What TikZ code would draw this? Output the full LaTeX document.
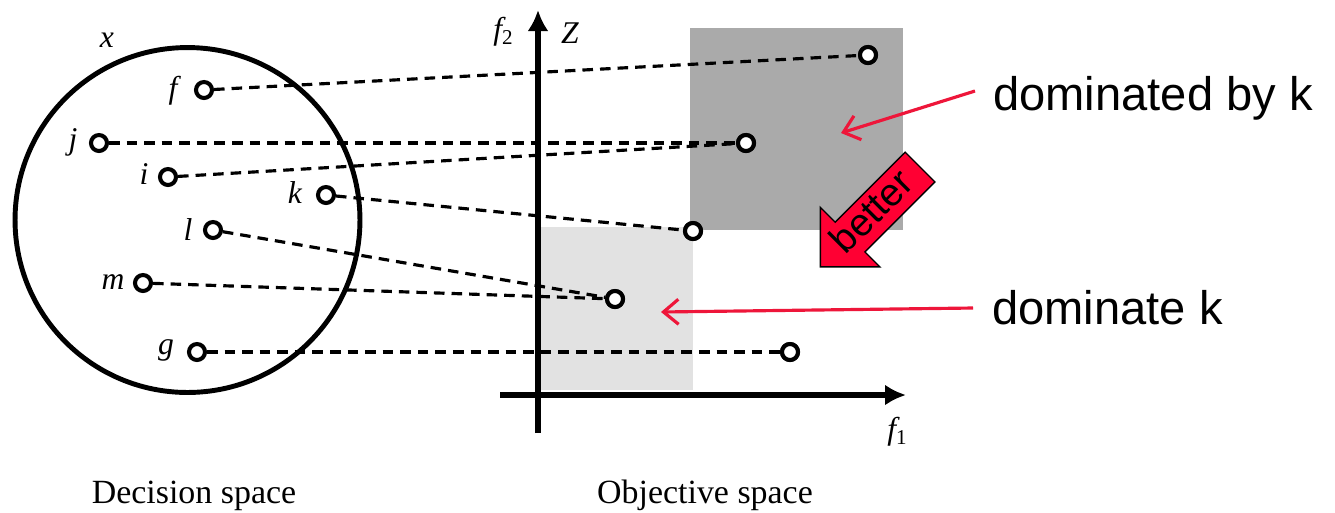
\documentclass[tikz,border=0pt]{standalone}
\usepackage{fontspec}
\setmainfont{Liberation Serif}
\newfontfamily\arialf{Liberation Sans}
\usetikzlibrary{arrows.meta}
\definecolor{darkbox}{RGB}{170,170,170}
\definecolor{lightbox}{RGB}{226,226,226}
\definecolor{redline}{RGB}{238,22,58}
\definecolor{redfill}{RGB}{255,0,51}
\begin{document}
\begin{tikzpicture}[x=0.02cm,y=-0.02cm,
  pt/.style={circle, draw, line width=2.3pt, fill=white, minimum size=0.32cm, inner sep=0pt},
  lab/.style={font=\fontsize{18}{20}\selectfont\itshape, inner sep=0pt},
  dl/.style={dash pattern=on 6pt off 4pt, line width=1.8pt},
  axisarrow/.style={line width=3.8pt, -{Latex[length=0.42cm,width=0.42cm]}},
  big/.style={font=\arialf\fontsize{26.8}{32}\selectfont, inner sep=0pt},
  redarr/.style={draw=redline, line width=1.8pt, -{Straight Barb[length=0.3cm,width=0.5cm]}},
  captxt/.style={font=\fontsize{19.3}{22}\selectfont, inner sep=0pt}
]
\useasboundingbox (0,0) rectangle (1335,512);
\fill[white] (0,0) rectangle (1335,512);
% shaded regions
\fill[darkbox] (690,28) rectangle (903,230);
\fill[lightbox] (540,227) rectangle (693,390);
% axes
\coordinate (xo) at (500,395); \coordinate (xe) at (906,395);
\coordinate (yo) at (538,433); \coordinate (ye) at (538,10);
\draw[axisarrow] (xo) -- (xe);
\draw[axisarrow] (yo) -- (ye);
\node[lab] (f2lab) at (503,32) {f\raisebox{-0.35ex}{\upshape\fontsize{12}{12}\selectfont 2}};
\node[lab] (zlab) at (570,33) {Z};
\node[lab] (f1lab) at (897,432) {f\raisebox{-0.35ex}{\upshape\fontsize{12}{12}\selectfont 1}};
% decision space
\node[draw, circle, line width=2.8pt, minimum size=6.9cm, inner sep=0pt] (X) at (187.5,220) {};
\node[lab] (lx) at (107,40) {x};
% decision points
\node[pt] (f) at (204,90) {};
\node[pt] (j) at (99,143) {};
\node[pt] (i) at (168,177) {};
\node[pt] (k) at (326,195) {};
\node[pt] (l) at (213,230) {};
\node[pt] (m) at (143,283) {};
\node[pt] (g) at (197,352) {};
\node[lab] (lf) at (173,91) {f};
\node[lab] (lj) at (73,142) {j};
\node[lab] (li) at (144,174) {i};
\node[lab] (lk) at (295,193) {k};
\node[lab] (ll) at (188,230) {l};
\node[lab] (lm) at (113,282) {m};
\node[lab] (lg) at (166,350) {g};
% objective points
\node[pt] (F) at (868,55) {};
\node[pt] (JI) at (746,143) {};
\node[pt] (K) at (693,231) {};
\node[pt] (LM) at (615,299) {};
\node[pt] (G) at (790,352) {};
% mappings
\draw[dl] (f) -- (F);
\draw[dl] (j) -- (JI);
\draw[dl] (i) -- (JI);
\draw[dl] (k) -- (K);
\draw[dl] (l) -- (LM);
\draw[dl] (m) -- (LM);
\draw[dl] (g) -- (G);
% redraw objective points on top
\node[pt] at (868,55) {};
\node[pt] at (746,143) {};
\node[pt] at (693,231) {};
\node[pt] at (615,299) {};
\node[pt] at (790,352) {};
% annotations
\node[big, anchor=base west] (dbk) at (993,110) {dominated by k};
\node[big, anchor=base west] (dk) at (992,324) {dominate k};
\coordinate (a1s) at (975,91);
\coordinate (a1e) at (841,133);
\coordinate (a2s) at (973,308);
\coordinate (a2e) at (661,312);
\draw[redarr] (a1s) -- (a1e);
\draw[redarr] (a2s) -- (a2e);
% better arrow
\draw[fill=redfill, line width=0.8pt, line join=miter] (905.2,152.2) -- (934.9,181.9) -- (864.9,251.9) -- (879.8,266.8) -- (820.4,266.8) -- (820.4,207.4) -- (835.2,222.2) -- cycle;
\node[font=\arialf\fontsize{22}{24}\selectfont, rotate=45, inner sep=0pt] (better) at (871,211) {better};
% captions
\node[captxt, anchor=base] (dspace) at (194,503) {Decision space};
\node[captxt, anchor=base] (ospace) at (705,503) {Objective space};
\end{tikzpicture}
\end{document}
